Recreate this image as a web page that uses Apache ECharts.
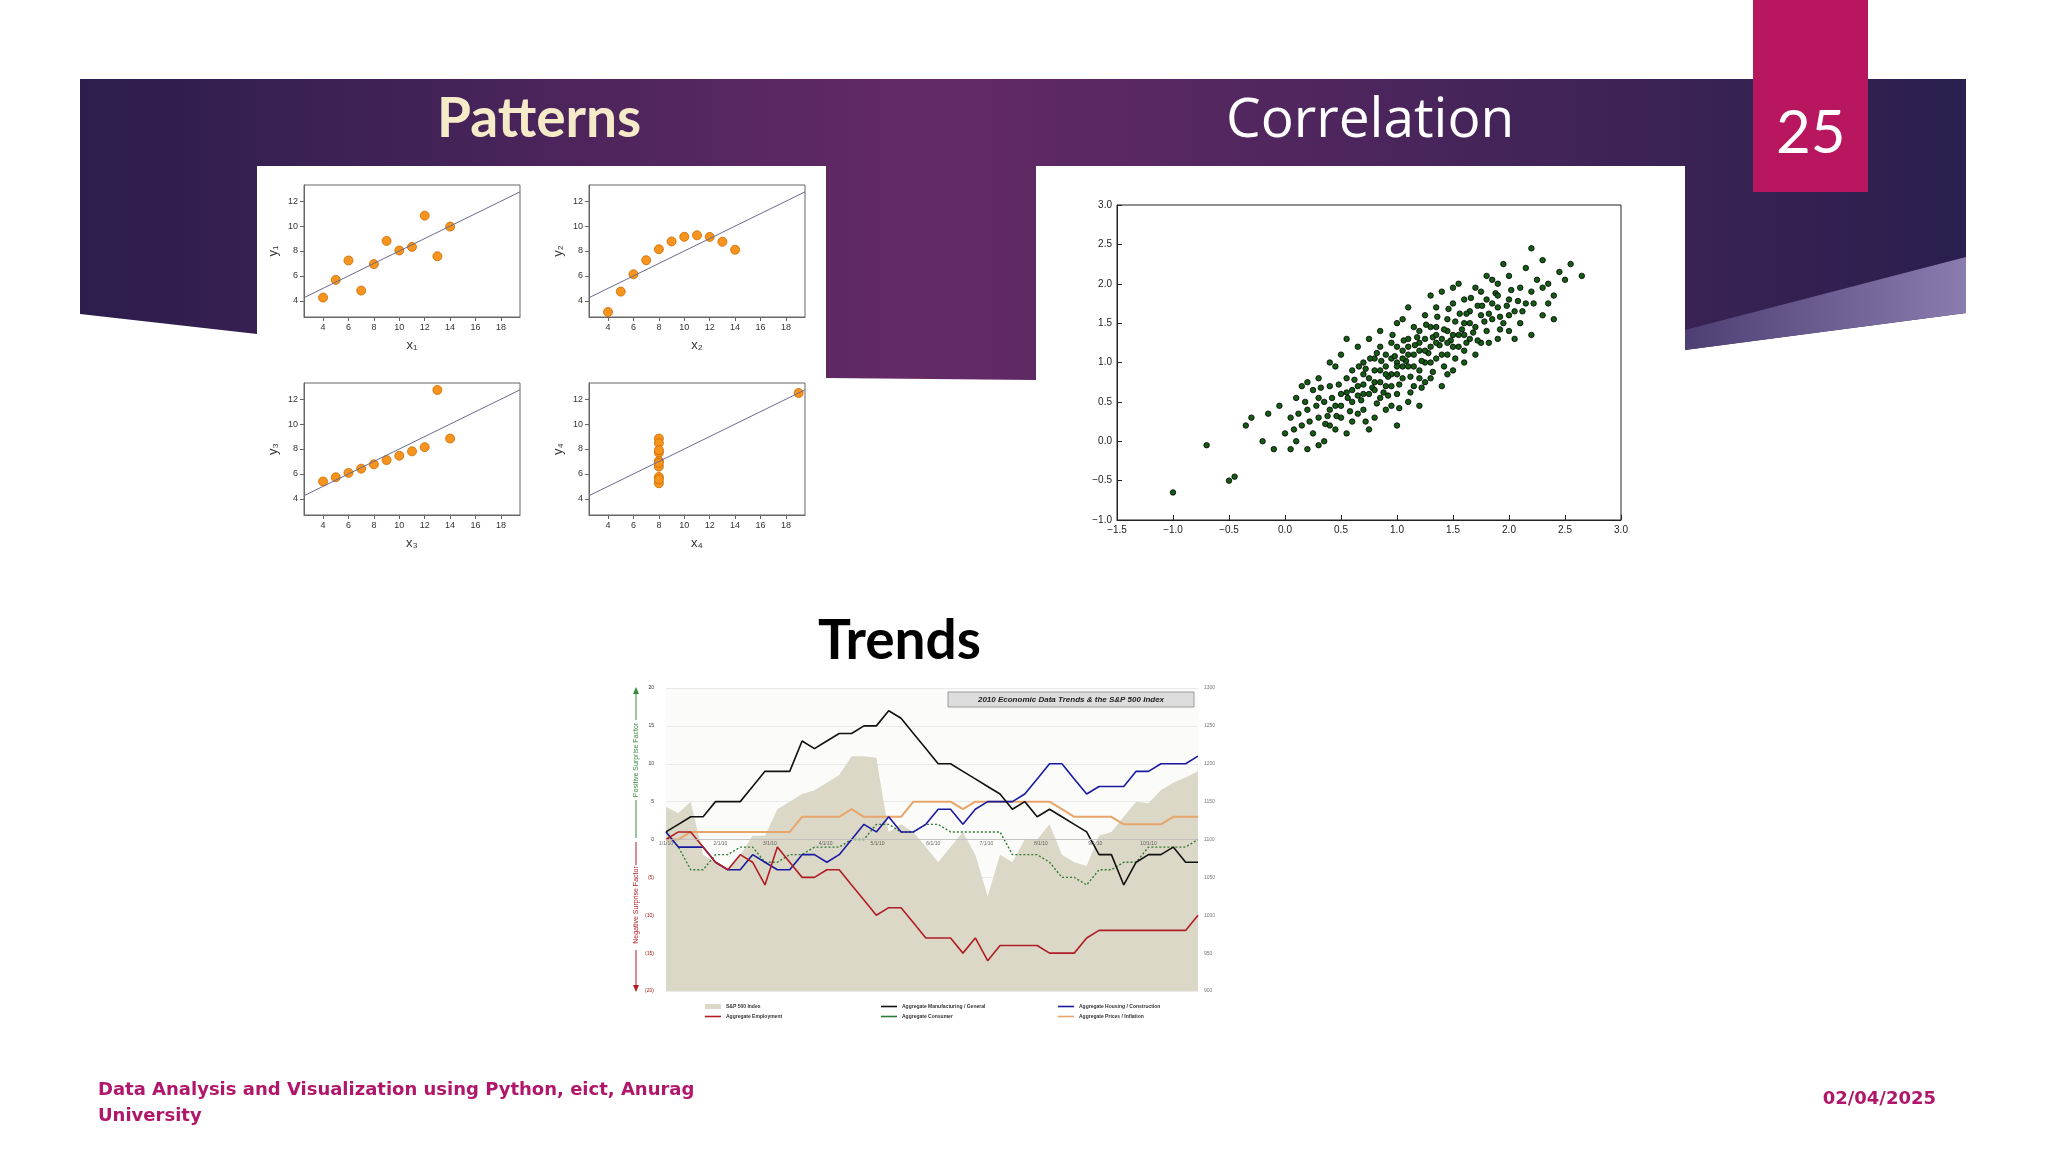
<!DOCTYPE html>
<html><head><meta charset="utf-8">
<script src="https://cdn.jsdelivr.net/npm/echarts@6/dist/echarts.min.js"></script>
<style>html,body{margin:0;padding:0;background:#fff}#c{width:2048px;height:1152px}</style>
</head><body><div id="c"></div>
<script>
// ---- Anscombe quartet ----
const ansX123 = [10, 8, 13, 9, 11, 14, 6, 4, 12, 7, 5];
const ansY1 = [8.04, 6.95, 7.58, 8.81, 8.33, 9.96, 7.24, 4.26, 10.84, 4.82, 5.68];
const ansY2 = [9.14, 8.14, 8.74, 8.77, 9.26, 8.10, 6.13, 3.10, 9.13, 7.26, 4.74];
const ansY3 = [7.46, 6.77, 12.74, 7.11, 7.81, 8.84, 6.08, 5.39, 8.15, 6.42, 5.73];
const ansX4 = [8, 8, 8, 8, 8, 8, 8, 19, 8, 8, 8];
const ansY4 = [6.58, 5.76, 7.71, 8.84, 8.47, 7.04, 5.25, 12.50, 5.56, 7.91, 6.89];
const fitLine = [[2.5, 4.25], [19.5, 12.75]];
const ansTicksX = [4, 6, 8, 10, 12, 14, 16, 18];
const ansTicksY = [4, 6, 8, 10, 12];

// ---- Correlation scatter ----
const corrPoints = [[-1.0,-0.65],[-0.5,-0.5],[-0.45,-0.45],[-0.7,-0.05],[-0.35,0.2],[-0.2,0.0],[-0.15,0.35],[-0.3,0.3],[-0.1,-0.1],[-0.05,0.45],
[0.0,0.1],[0.05,0.3],[0.1,0.55],[0.1,0.0],[0.15,0.2],[0.2,0.4],[0.2,-0.1],[0.25,0.65],[0.25,0.1],[0.3,0.3],[0.3,0.8],[0.35,0.5],[0.35,0.0],[0.4,0.2],[0.4,0.7],[0.45,0.45],[0.45,0.95],[0.5,0.3],[0.5,0.6],[0.5,1.1],[0.55,0.1],[0.55,0.8],[0.6,0.5],[0.6,0.9],[0.6,0.25],[0.65,0.7],[0.65,1.2],[0.7,0.4],[0.7,0.85],[0.7,1.0],[0.75,0.6],[0.75,1.3],[0.8,0.3],[0.8,0.75],[0.8,1.05],[0.85,0.55],[0.85,0.9],[0.85,1.4],[0.9,0.7],[0.9,1.1],[0.9,0.4],[0.95,0.85],[0.95,1.25],[1.0,0.6],[1.0,1.0],[1.0,1.5],[1.0,0.2],[1.05,0.8],[1.05,1.15],[1.1,0.5],[1.1,0.95],[1.1,1.3],[1.1,1.7],[1.15,0.7],[1.15,1.1],[1.2,0.9],[1.2,1.4],[1.2,0.45],[1.25,1.0],[1.25,1.6],[1.3,0.8],[1.3,1.2],[1.3,1.85],[1.35,1.05],[1.35,1.45],[1.4,0.7],[1.4,1.3],[1.4,1.9],[1.45,1.1],[1.45,1.55],[1.5,0.9],[1.5,1.35],[1.5,1.75],[1.55,1.2],[1.55,2.0],[1.6,1.0],[1.6,1.5],[1.6,1.8],[1.65,1.3],[1.65,1.65],[1.7,1.1],[1.7,1.45],[1.7,1.95],[1.75,1.6],[1.75,1.25],[1.8,1.4],[1.8,1.8],[1.8,2.1],[1.85,1.55],[1.9,1.3],[1.9,1.7],[1.9,2.0],[1.95,1.5],[2.0,1.8],[2.0,2.1],[2.0,1.4],[2.05,1.65],[2.1,1.95],[2.1,1.5],[2.15,2.2],[2.15,1.75],[2.2,1.35],[2.2,1.9],[2.25,2.05],[2.3,1.6],[2.3,2.3],[2.35,2.0],[2.4,1.85],[2.45,2.15],[2.5,2.05],[2.55,2.25],[2.65,2.1],[2.2,2.45],[1.95,2.25],[0.15,0.7],[0.3,-0.05],[0.05,-0.1],[0.55,1.3],[0.75,0.15],[0.4,1.0],[1.05,1.55],[0.95,0.45],[1.25,0.75],[1.45,0.85],[1.6,1.15],[2.4,1.55],[0.65,0.35],[0.2,0.75],[1.35,1.7],[1.15,1.45],[0.85,1.2],[0.45,0.15],[1.5,1.95],[1.75,1.9],[1.85,2.05],[2.05,1.3],
[0.6,0.65],[0.7,0.6],[0.8,0.9],[0.9,0.95],[1.0,0.85],[1.0,1.2],[1.1,1.1],[1.2,1.15],[1.3,1.0],[1.3,1.45],[1.4,1.1],[1.5,1.2],[1.6,1.35],[0.5,0.45],[0.4,0.4],[0.3,0.55],[1.2,1.25],[0.95,1.05],[0.75,0.8],[1.45,1.4],[1.65,1.5],[1.85,1.75],[1.25,1.3],[1.05,0.95],[0.85,0.75],
[0.62,0.78],[0.68,0.52],[0.72,0.92],[0.78,0.68],[0.82,1.12],[0.88,0.62],[0.92,0.82],[0.98,1.08],[1.02,0.72],[1.08,1.02],[1.12,0.82],[1.18,1.32],[1.22,1.02],[1.28,1.12],[1.32,1.32],[1.38,1.22],[1.42,1.42],[1.48,1.28],[1.52,1.52],[1.58,1.42],[1.62,1.62],[1.68,1.38],[1.72,1.72],[1.78,1.52],[1.82,1.62],[1.88,1.88],[1.92,1.58],[1.98,1.72],[2.02,1.92],[2.08,1.78],[0.58,0.38],[0.48,0.72],[0.42,0.55],[0.38,0.32],[0.32,0.68],[0.28,0.45],[0.22,0.25],[0.18,0.5],[0.12,0.35],[0.08,0.15],
[0.66,0.95],[0.76,1.05],[0.86,1.02],[0.96,1.35],[1.06,1.28],[1.16,1.22],[1.26,1.48],[1.36,1.58],[1.46,1.68],[1.56,1.62],[1.66,1.82],[1.76,1.72],[0.56,0.55],[0.46,0.32],[0.36,0.22],[0.72,0.25],[0.82,0.48],[0.92,0.58],[1.02,0.42],[1.12,0.62],[1.22,0.68],[1.32,0.88],[1.42,0.95],[1.52,1.05],[1.62,1.25],[1.72,1.28],[1.82,1.25],[1.92,1.42],[2.12,1.65],[2.22,1.75],
[1.0,0.95],[1.05,1.05],[1.15,0.95],[1.25,1.15],[1.35,1.25],[1.1,1.2],[0.9,0.85],[0.8,0.65],[0.7,0.72],[1.45,1.25],[1.55,1.35],[1.2,0.8],[0.95,0.7],[0.65,0.58],[1.35,1.35],[2.3,1.95],[2.35,1.75],[2.0,1.6],[1.9,1.85],[0.55,0.62]];

// ---- Trends 2010 ----
const weekIdx = Array.from({length: 44}, (_, i) => i);
const monthTicks = [0, 4.4, 8.4, 12.9, 17.1, 21.6, 25.9, 30.3, 34.7, 39.0];
const monthLabels = ['1/1/10','2/1/10','3/1/10','4/1/10','5/1/10','6/1/10','7/1/10','8/1/10','9/1/10','10/1/10'];
const sp500 = [1143,1135,1150,1080,1070,1060,1080,1105,1105,1140,1150,1160,1165,1175,1185,1210,1210,1208,1110,1120,1110,1090,1070,1090,1110,1080,1025,1080,1070,1100,1100,1120,1080,1070,1065,1105,1110,1130,1150,1148,1165,1175,1182,1190];
const manufacturing = [1,2,3,3,5,5,5,7,9,9,9,13,12,13,14,14,15,15,17,16,14,12,10,10,9,8,7,6,4,5,3,4,3,2,1,-2,-2,-6,-3,-2,-2,-1,-3,-3];
const housing = [1,-1,-1,-1,-3,-4,-4,-2,-3,-4,-4,-2,-2,-3,-2,0,2,1,3,1,1,2,4,4,2,4,5,5,5,6,8,10,10,8,6,7,7,7,9,9,10,10,10,11];
const employment = [0,1,1,-1,-3,-4,-2,-3,-6,-1,-3,-5,-5,-4,-4,-6,-8,-10,-9,-9,-11,-13,-13,-13,-15,-13,-16,-14,-14,-14,-14,-15,-15,-15,-13,-12,-12,-12,-12,-12,-12,-12,-12,-10];
const consumer = [1,-1,-4,-4,-2,-2,-1,-1,-3,-3,-2,-2,-1,-1,-1,0,0,2,2,1,1,2,2,1,1,1,1,1,-2,-2,-2,-3,-5,-5,-6,-4,-4,-3,-3,-1,-1,-1,-1,0];
const prices = [0,0,1,1,1,1,1,1,1,1,1,3,3,3,3,4,3,3,3,3,5,5,5,5,4,5,5,5,5,5,5,5,4,3,3,3,3,2,2,2,2,3,3,3];

const chart = echarts.init(document.getElementById('c'), null, {renderer: 'canvas'});
const ansGrids = [[304,185],[589,185],[304,383],[589,383]];
const ansSets = [[ansX123,ansY1],[ansX123,ansY2],[ansX123,ansY3],[ansX4,ansY4]];
const grid = [], xAxis = [], yAxis = [], series = [];
const lbl = {fontSize: 9, color: '#333', fontFamily: 'Liberation Sans'};
ansGrids.forEach((g, i) => {
  grid.push({left: g[0], top: g[1], width: 216, height: 132, show: true, borderColor: '#666', borderWidth: 1, backgroundColor: '#fff'});
  xAxis.push({gridIndex: i, type: 'value', min: 2.5, max: 19.5, name: 'x' + '₁₂₃₄'[i], nameLocation: 'middle', nameGap: 22,
    nameTextStyle: {fontSize: 13, color: '#333'}, axisLine: {onZero: false, lineStyle: {color: '#666'}},
    axisTick: {customValues: ansTicksX, length: 4, lineStyle: {color: '#666'}}, axisLabel: Object.assign({customValues: ansTicksX, margin: 6}, lbl), splitLine: {show: false}});
  yAxis.push({gridIndex: i, type: 'value', min: 2.7, max: 13.3, name: 'y' + '₁₂₃₄'[i], nameLocation: 'middle', nameGap: 24, nameRotate: 90,
    nameTextStyle: {fontSize: 13, color: '#333'}, axisLine: {onZero: false, lineStyle: {color: '#666'}},
    axisTick: {customValues: ansTicksY, length: 4, lineStyle: {color: '#666'}}, axisLabel: Object.assign({customValues: ansTicksY, margin: 6}, lbl), splitLine: {show: false}});
  series.push({type: 'line', xAxisIndex: i, yAxisIndex: i, data: fitLine, symbol: 'none', lineStyle: {color: '#6b6b8f', width: 1}, silent: true});
  series.push({type: 'scatter', xAxisIndex: i, yAxisIndex: i, data: ansSets[i][0].map((x, j) => [x, ansSets[i][1][j]]),
    symbolSize: 9, itemStyle: {color: '#f7941d', borderColor: '#c96a00', borderWidth: 0.8, opacity: 1}});
});
// correlation
grid.push({left: 1117, top: 205, width: 504, height: 315, show: true, borderColor: '#222', borderWidth: 1, backgroundColor: '#fff'});
const fmt1 = v => (v < 0 ? '\u2212' + Math.abs(v).toFixed(1) : v.toFixed(1));
xAxis.push({gridIndex: 4, type: 'value', min: -1.5, max: 3, interval: 0.5, axisLine: {onZero: false, lineStyle: {color: '#222'}},
  axisTick: {inside: true, length: 5}, axisLabel: {formatter: fmt1, fontSize: 10, color: '#222', margin: 5}, splitLine: {show: false}});
yAxis.push({gridIndex: 4, type: 'value', min: -1, max: 3, interval: 0.5, axisLine: {onZero: false, lineStyle: {color: '#222'}},
  axisTick: {inside: true, length: 5}, axisLabel: {formatter: fmt1, fontSize: 10, color: '#222', margin: 5}, splitLine: {show: false}});
series.push({type: 'scatter', xAxisIndex: 4, yAxisIndex: 4, data: corrPoints, symbolSize: 5.5,
  itemStyle: {color: '#145c14', borderColor: '#000', borderWidth: 0.8, opacity: 1}});
// trends
grid.push({left: 666, top: 688, width: 532, height: 303, show: true, borderWidth: 0, backgroundColor: '#fbfbfa'});
xAxis.push({gridIndex: 5, type: 'value', min: 0, max: 43, axisLine: {show: false},
  axisTick: {show: false}, splitLine: {show: false}, axisLabel: {show: false}});
yAxis.push({gridIndex: 5, type: 'value', min: -20, max: 20, interval: 5, axisLine: {show: false}, axisTick: {show: false},
  splitLine: {lineStyle: {color: '#e4e4e4', width: 0.8}},
  axisLabel: {fontSize: 5, margin: 12, formatter: v => v < 0 ? '(' + (-v) + ')' : '' + v, color: v => v < 0 ? '#a01c1c' : '#333'}});
yAxis.push({gridIndex: 5, type: 'value', position: 'right', min: 900, max: 1300, interval: 50, axisLine: {show: false},
  axisTick: {show: false}, splitLine: {show: false}, axisLabel: {fontSize: 5, color: '#777', margin: 6, formatter: v => '' + v}});
const tl = (name, data, color, extra) => Object.assign({name, type: 'line', xAxisIndex: 5, yAxisIndex: 5,
  data: weekIdx.map((x, i) => [x, data[i]]), symbol: 'none', lineStyle: {color, width: 1.6}, itemStyle: {color}}, extra || {});
series.push({name: 'S&P 500 Index', type: 'line', xAxisIndex: 5, yAxisIndex: 6, data: weekIdx.map((x, i) => [x, sp500[i]]), symbol: 'none',
  lineStyle: {width: 0}, areaStyle: {color: '#dbd8c8', origin: 'start', opacity: 1}, itemStyle: {color: '#dbd8c8'}, z: 1});
// zero line with month labels
series.push({type: 'scatter', xAxisIndex: 5, yAxisIndex: 5, data: monthTicks.map((m, i) => ({value: [m, 0], name: monthLabels[i]})),
  symbolSize: 0, z: 3, silent: true, label: {show: true, position: 'bottom', distance: 2, formatter: p => p.name, fontSize: 5, color: '#444'},
  markLine: {silent: true, symbol: 'none', label: {show: false}, lineStyle: {color: '#bbb', width: 0.8, type: 'solid'}, data: [{yAxis: 0}]}});
series.push(tl('Aggregate Prices / Inflation', prices, '#e8a56a', {lineStyle: {color: '#e8a56a', width: 2}}));
series.push(tl('Aggregate Consumer', consumer, '#2e7d32', {lineStyle: {color: '#2e7d32', width: 1.4, type: [2, 2]}}));
series.push(tl('Aggregate Housing / Construction', housing, '#1a1aa0'));
series.push(tl('Aggregate Employment', employment, '#b01e24'));
series.push(tl('Aggregate Manufacturing / General', manufacturing, '#111'));

const legTxt = {fontSize: 5, color: '#333', fontWeight: 'bold'};
const mkLeg = (left, names) => ({left, top: 999, orient: 'vertical', itemGap: 5, itemWidth: 16, itemHeight: 5,
  textStyle: legTxt, data: names.map(n => n === 'S&P 500 Index' ? {name: n, icon: 'rect'} : {name: n, icon: 'path://M0,0h10v1h-10z'}), selectedMode: false});

const option = {
  animation: false,
  backgroundColor: '#fff',
  legend: [mkLeg(700, ['S&P 500 Index', 'Aggregate Employment']), mkLeg(876, ['Aggregate Manufacturing / General', 'Aggregate Consumer']),
    mkLeg(1053, ['Aggregate Housing / Construction', 'Aggregate Prices / Inflation'])],
  grid, xAxis, yAxis, series,
  graphic: [
    {type: 'polygon', z: -10, shape: {points: [[80,79],[1966,79],[1966,313],[1685,350],[1036,380],[826,378],[826,330],[257,334],[80,314]]},
      style: {fill: new echarts.graphic.LinearGradient(0, 0, 1, 0, [{offset: 0, color: '#2b1d4c'}, {offset: 0.45, color: '#642a66'}, {offset: 1, color: '#2a1f4e'}])}},
    {type: 'polygon', z: -9, shape: {points: [[1685,330],[1966,257],[1966,313],[1685,350]]},
      style: {fill: new echarts.graphic.LinearGradient(0, 0, 1, 0, [{offset: 0, color: '#4d3f73'}, {offset: 1, color: '#8a7cae'}])}},
    {type: 'rect', z: -8, shape: {x: 257, y: 166, width: 569, height: 400}, style: {fill: '#fff'}},
    {type: 'rect', z: -8, shape: {x: 1036, y: 166, width: 649, height: 400}, style: {fill: '#fff'}},
    {type: 'rect', z: -7, shape: {x: 1753, y: 0, width: 115, height: 192}, style: {fill: '#b8165e'}},
    {type: 'text', left: 1776, top: 104, style: {text: '25', fill: '#fff', font: '60px Lato'}},
    {type: 'text', left: 437, top: 92, style: {text: 'Patterns', fill: '#f6ebc9', font: 'bold 55px Lato'}},
    {type: 'text', left: 1226, top: 94, style: {text: 'Correlation', fill: '#fff', font: '55px "Open Sans"'}},
    {type: 'text', left: 818, top: 614, style: {text: 'Trends', fill: '#000', font: 'bold 55px Lato'}},
    {type: 'rect', shape: {x: 948, y: 692, width: 246, height: 15}, style: {fill: '#ddd', stroke: '#888', lineWidth: 0.8}, z: 50},
    {type: 'text', x: 1071, y: 699.5, z: 51, style: {text: '2010 Economic Data Trends & the S&P 500 Index', fill: '#222', font: 'italic bold 8px "Liberation Sans"', align: 'center', verticalAlign: 'middle'}},
    {type: 'text', x: 636, y: 760, rotation: Math.PI / 2, style: {text: 'Positive Surprise Factor', fill: '#3a8a3a', font: '7px "Liberation Sans"', align: 'center', verticalAlign: 'middle'}},
    {type: 'text', x: 636, y: 905, rotation: Math.PI / 2, style: {text: 'Negative Surprise Factor', fill: '#b01e24', font: '7px "Liberation Sans"', align: 'center', verticalAlign: 'middle'}},
    {type: 'line', shape: {x1: 636, y1: 692, x2: 636, y2: 720}, style: {stroke: '#3a8a3a', lineWidth: 1}},
    {type: 'line', shape: {x1: 636, y1: 800, x2: 636, y2: 838}, style: {stroke: '#3a8a3a', lineWidth: 1}},
    {type: 'polygon', shape: {points: [[633,694],[639,694],[636,687]]}, style: {fill: '#3a8a3a'}},
    {type: 'line', shape: {x1: 636, y1: 842, x2: 636, y2: 865}, style: {stroke: '#b01e24', lineWidth: 1}},
    {type: 'line', shape: {x1: 636, y1: 950, x2: 636, y2: 986}, style: {stroke: '#b01e24', lineWidth: 1}},
    {type: 'polygon', shape: {points: [[633,985],[639,985],[636,992]]}, style: {fill: '#b01e24'}},
    {type: 'text', left: 98, top: 1077, style: {text: 'Data Analysis and Visualization using Python, eict, Anurag\nUniversity', fill: '#b0176a', font: 'bold 18px "DejaVu Sans"', lineHeight: 26}},
    {type: 'text', right: 112, top: 1090, style: {text: '02/04/2025', fill: '#b0176a', font: 'bold 18px "DejaVu Sans"'}}
  ]
};
chart.setOption(option);
</script></body></html>
